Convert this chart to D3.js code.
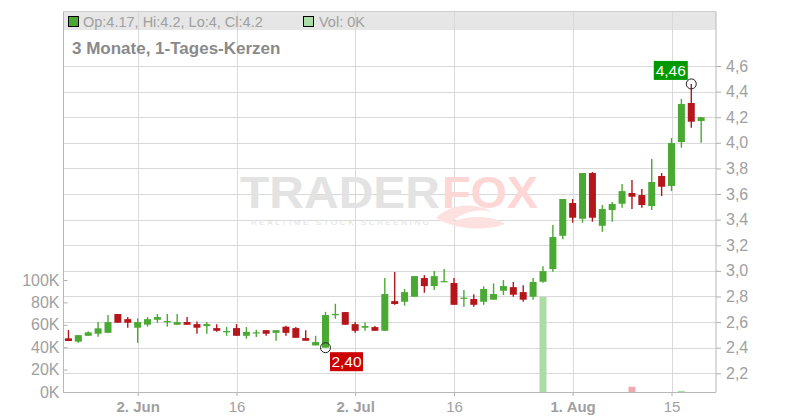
<!DOCTYPE html>
<html><head><meta charset="utf-8">
<script src="https://cdn.jsdelivr.net/npm/d3@7"></script>
<style>body{margin:0;background:#fff}svg{display:block;font-family:"Liberation Sans",Arial,sans-serif}</style>
</head><body><svg id="c" width="800" height="420"></svg>
<script>
const dates = ["2025-05-22","2025-05-23","2025-05-26","2025-05-27","2025-05-28","2025-05-29","2025-05-30",
"2025-06-02","2025-06-03","2025-06-04","2025-06-05","2025-06-06","2025-06-09","2025-06-10","2025-06-11","2025-06-12","2025-06-13",
"2025-06-16","2025-06-17","2025-06-18","2025-06-19","2025-06-20","2025-06-23","2025-06-24","2025-06-25","2025-06-26","2025-06-27","2025-06-30",
"2025-07-01","2025-07-02","2025-07-03","2025-07-04","2025-07-07","2025-07-08","2025-07-09","2025-07-10","2025-07-11","2025-07-14","2025-07-15",
"2025-07-16","2025-07-17","2025-07-18","2025-07-21","2025-07-22","2025-07-23","2025-07-24","2025-07-25","2025-07-28","2025-07-29","2025-07-30","2025-07-31",
"2025-08-01","2025-08-04","2025-08-05","2025-08-06","2025-08-07","2025-08-08","2025-08-11","2025-08-12","2025-08-13","2025-08-14","2025-08-15",
"2025-08-18","2025-08-19","2025-08-20"];
const open  = [2.473,2.447,2.493,2.509,2.516,2.663,2.623,2.556,2.580,2.618,2.600,2.579,2.600,2.584,2.569,2.553,2.520,2.553,2.493,2.512,2.537,2.516,2.564,2.553,2.475,2.418,2.400,2.654,2.678,2.584,2.556,2.561,2.532,2.764,2.759,2.798,2.944,2.881,2.913,2.905,2.783,2.780,2.759,2.775,2.845,2.873,2.834,2.798,2.915,3.014,3.274,3.530,3.407,3.764,3.352,3.475,3.524,3.608,3.592,3.506,3.741,3.663,4.006,4.311,4.170];
const high  = [2.538,2.498,2.528,2.600,2.655,2.663,2.639,2.629,2.639,2.663,2.663,2.663,2.639,2.605,2.600,2.584,2.561,2.584,2.561,2.540,2.537,2.537,2.572,2.561,2.537,2.493,2.680,2.743,2.678,2.600,2.598,2.569,2.944,2.991,2.858,2.959,2.967,2.998,3.014,2.944,2.850,2.817,2.879,2.902,2.928,2.913,2.887,2.944,3.037,3.358,3.561,3.561,3.764,3.772,3.514,3.538,3.678,3.709,3.639,3.873,3.764,4.037,4.342,4.460,4.200];
const low   = [2.452,2.438,2.493,2.485,2.516,2.595,2.556,2.438,2.564,2.595,2.564,2.579,2.579,2.509,2.509,2.524,2.493,2.493,2.470,2.483,2.493,2.454,2.493,2.477,2.454,2.418,2.400,2.626,2.579,2.516,2.532,2.532,2.532,2.735,2.728,2.798,2.829,2.850,2.913,2.735,2.720,2.720,2.735,2.775,2.811,2.798,2.759,2.775,2.907,2.993,3.246,3.376,3.376,3.384,3.305,3.384,3.493,3.483,3.493,3.475,3.584,3.623,3.962,4.118,4.000];
const close = [2.452,2.498,2.520,2.551,2.600,2.595,2.595,2.600,2.623,2.639,2.608,2.600,2.579,2.556,2.584,2.532,2.530,2.493,2.524,2.520,2.509,2.537,2.516,2.477,2.454,2.444,2.655,2.663,2.579,2.532,2.569,2.532,2.819,2.741,2.834,2.959,2.881,2.959,2.920,2.735,2.791,2.735,2.858,2.819,2.881,2.814,2.775,2.913,2.998,3.264,3.561,3.415,3.764,3.415,3.483,3.522,3.623,3.579,3.514,3.694,3.657,3.998,4.303,4.165,4.200];
const volume = [0,0,0,0,0,0,0,0,0,0,0,0,0,0,0,0,0,0,0,0,0,0,0,0,0,0,0,0,0,0,0,0,0,0,0,0,0,0,0,0,0,0,0,0,0,0,0,0,85000,0,0,0,0,0,0,0,0,4700,0,0,0,0,1000,0,0];
const priceTicks = [2.2,2.4,2.6,2.8,3.0,3.2,3.4,3.6,3.8,4.0,4.2,4.4,4.6];
const volTicks = [0,20000,40000,60000,80000,100000];
const volTickLabels = ["0K","20K","40K","60K","80K","100K"];
const dateTicks = ["2025-06-02","2025-06-16","2025-07-02","2025-07-16","2025-08-01","2025-08-15"];
const dateTickLabels = ["2. Jun","16","2. Jul","16","1. Aug","15"];
const dateTickBold = [true,false,true,false,true,false];
const minMark = {date:"2025-06-27", value:2.40, label:"2,40"};
const maxMark = {date:"2025-08-19", value:4.46, label:"4,46"};
const headerText = "Op:4.17, Hi:4.2, Lo:4, Cl:4.2";
const volText = "Vol: 0K";
const title = "3 Monate, 1-Tages-Kerzen";

const GREEN="#4aa933", RED="#b5161b", GRID="#d9d9d9", TXT="#a0a0a0";
const L=63.5, R=716, T=11.5, B=392;
const svg=d3.select("#c");
const x=d3.scaleLinear().domain([-0.5,dates.length+0.5]).range([L,R]);
const y=d3.scaleLinear().domain([2.2,4.6]).range([373.3,66]);
const yv=d3.scaleLinear().domain([0,100000]).range([B,280]);
const idx=d=>dates.indexOf(d);
const fmt=v=>d3.format(".1f")(v).replace(".",",");

// header band
svg.append("rect").attr("x",L).attr("y",T).attr("width",R-L).attr("height",18.5).attr("fill","#e6e6e6");
// grids
svg.append("g").selectAll("line").data(priceTicks).join("line")
  .attr("x1",L).attr("x2",R).attr("y1",d=>Math.round(y(d))+0.5).attr("y2",d=>Math.round(y(d))+0.5)
  .attr("stroke",GRID);
svg.append("g").selectAll("line").data(dateTicks).join("line")
  .attr("x1",d=>Math.round(x(idx(d)))+0.5).attr("x2",d=>Math.round(x(idx(d)))+0.5).attr("y1",T).attr("y2",B)
  .attr("stroke",GRID);
svg.append("line").attr("x1",L).attr("x2",R).attr("y1",T).attr("y2",T).attr("stroke","#cfcfcf");

// watermark
const wm=svg.append("g");
wm.append("path").attr("d","M436,218 C455,200 480,205 492,212 C478,208 462,212 452,222 C470,214 495,216 505,224 C490,230 460,232 436,218 Z")
  .attr("fill","#fde0e0");
wm.append("text").attr("x",240).attr("y",207.5).attr("font-size",44).attr("font-weight","bold")
  .attr("fill","#e3e3e3").attr("textLength",200).attr("lengthAdjust","spacingAndGlyphs").text("TRADER");
wm.append("text").attr("x",442).attr("y",207.5).attr("font-size",44).attr("font-weight","bold")
  .attr("fill","#fdd6d6").attr("textLength",96).attr("lengthAdjust","spacingAndGlyphs").text("FOX");
wm.append("text").attr("x",251).attr("y",224.5).attr("font-size",8).attr("fill","#e0e0e0")
  .attr("textLength",178).attr("lengthAdjust","spacing").text("REALTIME STOCK SCREENING");

// header texts
svg.append("rect").attr("x",68.5).attr("y",16.5).attr("width",10).attr("height",10).attr("fill",GREEN).attr("stroke","#000");
svg.append("text").attr("x",83).attr("y",26.5).attr("font-size",14.5).attr("fill",TXT).text(headerText);
svg.append("rect").attr("x",303.5).attr("y",16.5).attr("width",10).attr("height",10).attr("fill","#aadda5").attr("stroke","#000");
svg.append("text").attr("x",319).attr("y",26.5).attr("font-size",14.5).attr("fill",TXT).text(volText);
svg.append("text").attr("x",72).attr("y",54).attr("font-size",17).attr("font-weight","bold").attr("fill","#8a8a8a").text(title);

// volume bars
const vd=volume.map((v,i)=>({v,i,up:close[i]>=open[i]})).filter(d=>d.v>0);
svg.append("g").selectAll("rect").data(vd).join("rect")
  .attr("x",d=>x(d.i)-3.5).attr("width",7).attr("y",d=>yv(d.v)).attr("height",d=>B-yv(d.v))
  .attr("fill",d=>d.up?"#abdca6":"#f0a9b0");

// candles
const cd=dates.map((d,i)=>({i,o:open[i],h:high[i],l:low[i],c:close[i]}));
const cg=svg.append("g").selectAll("g").data(cd).join("g");
cg.append("line").attr("x1",d=>x(d.i)).attr("x2",d=>x(d.i)).attr("y1",d=>y(d.h)).attr("y2",d=>y(d.l))
  .attr("stroke",d=>d.c>=d.o?GREEN:RED).attr("stroke-width",1.4);
cg.append("rect").attr("x",d=>x(d.i)-3.5).attr("width",7)
  .attr("y",d=>y(Math.max(d.o,d.c))).attr("height",d=>Math.max(1.2,Math.abs(y(d.o)-y(d.c))))
  .attr("fill",d=>d.c>=d.o?GREEN:RED);

// axes
const ra=svg.append("g").attr("transform",`translate(${R},0)`)
  .call(d3.axisRight(y).tickValues(priceTicks).tickFormat(fmt).tickSize(5).tickPadding(5));
ra.select(".domain").remove();
ra.selectAll("line").attr("stroke","#b0b0b0");
ra.selectAll("text").attr("font-size",16).attr("fill",TXT).attr("font-family","Liberation Sans, Arial");
const la=svg.append("g").attr("transform",`translate(${L},0)`)
  .call(d3.axisRight(yv).tickValues(volTicks).tickFormat((d,i)=>volTickLabels[i]).tickSize(4).tickPadding(0));
la.select(".domain").remove();
la.selectAll("line").attr("stroke","#b0b0b0");
la.selectAll("text").attr("x",-4).attr("text-anchor","end").attr("font-size",16).attr("fill",TXT).attr("font-family","Liberation Sans, Arial");
const ba=svg.append("g").attr("transform",`translate(0,${B})`)
  .call(d3.axisBottom(x).tickValues(dateTicks.map(idx)).tickFormat((d,i)=>dateTickLabels[i]).tickSize(4).tickPadding(5));
ba.select(".domain").remove();
ba.selectAll("line").attr("stroke","#b0b0b0");
ba.selectAll("text").attr("font-size",15).attr("fill",TXT).attr("font-family","Liberation Sans, Arial")
  .attr("font-weight",(d,i)=>dateTickBold[i]?"bold":"normal");
// frame lines
svg.append("line").attr("x1",L).attr("x2",L).attr("y1",T).attr("y2",B).attr("stroke","#b8b8b8");
svg.append("line").attr("x1",R).attr("x2",R).attr("y1",T).attr("y2",B).attr("stroke","#b8b8b8");
svg.append("line").attr("x1",L).attr("x2",R).attr("y1",B+0.5).attr("y2",B+0.5).attr("stroke","#b8b8b8");

// min / max markers
function mark(m,color,dx,dy,w){
  const cx=x(idx(m.date)), cy=y(m.value);
  svg.append("circle").attr("cx",cx).attr("cy",cy).attr("r",5).attr("fill","none").attr("stroke","#222").attr("stroke-width",1);
  svg.append("rect").attr("x",cx+dx).attr("y",cy+dy).attr("width",w).attr("height",19).attr("fill",color);
  svg.append("text").attr("x",cx+dx+w/2).attr("y",cy+dy+15).attr("text-anchor","middle").attr("font-size",15.5)
    .attr("fill","#fff").text(m.label);
}
mark(minMark,"#cc0000",4.5,4.5,33);
mark(maxMark,"#009a00",-37.5,-23,34);
</script></body></html>
